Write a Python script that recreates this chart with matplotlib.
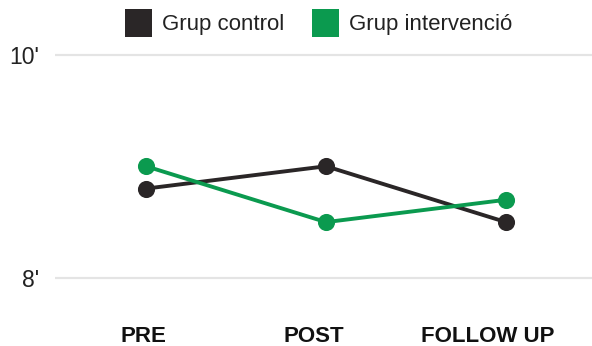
import matplotlib
matplotlib.use("Agg")
import matplotlib.pyplot as plt
from matplotlib.patches import Patch
from matplotlib.transforms import ScaledTranslation

# Data
moments = ["PRE", "POST", "FOLLOW UP"]
grup_control = [8.8, 9.0, 8.5]
grup_intervencio = [9.0, 8.5, 8.7]
y_ticks = [8, 10]
y_tick_labels = ["8'", "10'"]
series_names = ["Grup control", "Grup intervenció"]

DARK = "#2a2627"
GREEN = "#0b9a4f"
TEXT = "#222222"

plt.rcParams["font.family"] = ["Liberation Sans", "DejaVu Sans"]

W, H, DPI = 592, 346, 100
fig = plt.figure(figsize=(W / DPI, H / DPI), dpi=DPI)

# axes spans from pixel x=55 to the right edge, y=40..300 (from top)
ax = fig.add_axes([55 / W, 1 - 300 / H, 1 - 55 / W, 260 / H])

x = list(range(len(moments)))
ax.plot(x, grup_control, color=DARK, lw=2.8, marker="o", ms=11.3,
        solid_capstyle="round", zorder=3, clip_on=False)
ax.plot(x, grup_intervencio, color=GREEN, lw=2.8, marker="o", ms=11.3,
        solid_capstyle="round", zorder=3, clip_on=False)

px_per_unit_y = 111.75
ax.set_ylim(8 - 22 / px_per_unit_y, 10 + 14.5 / px_per_unit_y)
px_per_unit_x = 180
ax.set_xlim(-(146 - 55) / px_per_unit_x, 2 + (592 - 506) / px_per_unit_x)

for yv in y_ticks:
    ax.axhline(yv, color="#e4e4e4", lw=1.6, zorder=1)

ax.set_yticks(y_ticks)
ax.set_yticklabels(y_tick_labels, fontsize=16.5, color=TEXT)
ax.set_xticks(x)
ax.set_xticklabels(moments, fontsize=16, fontweight="bold", color="#111111")
ax.tick_params(axis="both", length=0)
ax.tick_params(axis="y", pad=11.5)
ax.tick_params(axis="x", pad=19)

for lbl, dx in zip(ax.get_xticklabels(), [-3, -12, -18]):
    lbl.set_transform(lbl.get_transform() + ScaledTranslation(dx / DPI, 0, fig.dpi_scale_trans))

for s in ax.spines.values():
    s.set_visible(False)
ax.set_facecolor("none")

handles = [Patch(facecolor=DARK, edgecolor="none"),
           Patch(facecolor=GREEN, edgecolor="none")]
fig.legend(handles, series_names, loc="center left",
           bbox_to_anchor=(125 / W, 1 - 23 / H), ncol=2, frameon=False,
           fontsize=16, handlelength=1.2, handleheight=1.55,
           handletextpad=0.45, columnspacing=1.26, borderpad=0,
           borderaxespad=0, labelcolor=TEXT)

fig.savefig("out.png", dpi=DPI)
